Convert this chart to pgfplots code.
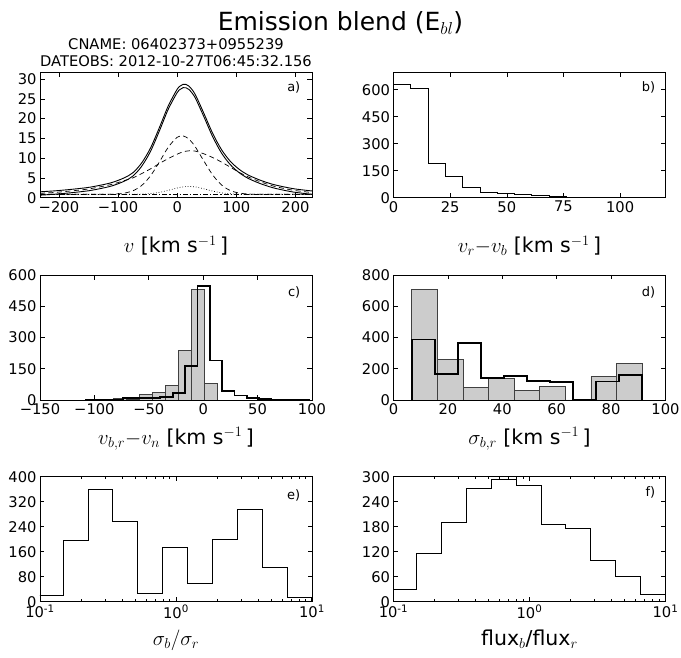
\documentclass[border=0pt]{standalone}
\usepackage{fontspec}
\setmainfont{DejaVu Sans}
\usepackage{pgfplots}
\pgfplotsset{compat=1.18}
\pgfplotsset{
 panel/.style={
  scale only axis, width=272pt, height=125pt, anchor=south west,
  tick align=inside, major tick length=4.5pt, minor tick length=2.5pt,
  tick label style={font=\fontsize{14.7}{17}\selectfont},
  xticklabel style={font=\fontsize{14.7}{17}\selectfont},
  yticklabel style={font=\fontsize{14.7}{17}\selectfont},
  /pgf/number format/assume math mode=true,
  axis line style={line width=0.7pt},
  every tick/.append style={black,line width=0.6pt},
  xlabel style={font=\fontsize{20.5}{24}\selectfont, at={(axis description cs:0.5,0)}, anchor=base},
  scaled ticks=false, clip=true,
 },
 logpanel/.style={xmin=0.1, xmax=10,
  xtick={0.1,1,10}, xticklabels={10\textsuperscript{-1},10\textsuperscript{0},10\textsuperscript{1}},
  minor xtick={0.2,0.3,0.4,0.5,0.6,0.7,0.8,0.9,2,3,4,5,6,7,8,9}},
 histstep/.style={const plot, black, line width=0.8pt},
 thickstep/.style={const plot, black, line width=1.7pt},
 graybar/.style={ybar interval, fill=gray!40, draw=black!75, line width=0.7pt},
}
\tikzset{plabel/.style={anchor=base east, font=\fontsize{13}{15}\selectfont}}
\begin{document}
\begin{tikzpicture}
\useasboundingbox (0,0) rectangle (681pt,657pt);
\node[anchor=base, font=\fontsize{25}{30}\selectfont] at (340.5pt,626pt) {Emission blend (E$_{bl}$)};
\node[anchor=base, font=\fontsize{14.7}{17}\selectfont] at (176pt,607pt) {CNAME: 06402373+0955239};
\node[anchor=base, font=\fontsize{14.7}{17}\selectfont] at (176pt,590pt) {DATEOBS: 2012-10-27T06:45:32.156};

% ---------------- a
\begin{axis}[panel, at={(40pt,459.3pt)},
  xmin=-232, xmax=228, ymin=0, ymax=31.6,
  xtick={-200,-100,0,100,200}, xticklabels={−200,−100,0,100,200},
  ytick={0,5,...,30},
  xlabel={$v$ [km s$^{-1}\,$]}, xlabel style={yshift=-55pt}]
\addplot[black, line width=0.7pt, dash pattern=on 5pt off 2pt on 1.2pt off 2pt] coordinates {(-232,0.85)(228,0.85)};
\addplot[black, line width=0.7pt, dotted, smooth] coordinates {(-232,0.85)(-90,0.85)(-75,0.86)(-60,0.91)(-45,1.04)(-30,1.35)(-15,1.86)(0,2.45)(10,2.74)(20,2.85)(30,2.74)(45,2.26)(60,1.67)(75,1.22)(90,0.98)(105,0.89)(120,0.85)(228,0.85)};
\addplot[black, line width=0.7pt, dash pattern=on 5pt off 3.5pt, smooth] coordinates {(-232,0.85)(-150,0.85)(-130,0.86)(-110,0.90)(-100,0.98)(-90,1.14)(-75,1.74)(-60,3.09)(-45,5.55)(-30,9.06)(-15,12.78)(0,15.27)(10,15.63)(20,14.80)(30,13.00)(45,9.31)(60,5.76)(75,3.22)(90,1.80)(105,1.17)(120,0.94)(140,0.86)(228,0.85)};
\addplot[black, line width=0.7pt, dash pattern=on 5pt off 3.5pt, smooth] coordinates {(-232,1.1)(-210,1.3)(-190,1.55)(-170,1.85)(-150,2.2)(-130,2.75)(-110,3.4)(-90,4.3)(-75,5.0)(-60,6.1)(-45,7.3)(-30,8.65)(-15,9.9)(0,11.0)(10,11.6)(20,11.85)(30,11.8)(45,11.1)(60,10.15)(75,9.0)(90,7.7)(105,6.4)(120,5.25)(140,4.05)(160,3.05)(180,2.35)(200,1.8)(228,1.3)};
\addplot[black, line width=0.9pt, smooth] coordinates {(-232,1.49)(-210,1.70)(-190,1.95)(-170,2.25)(-150,2.60)(-130,3.15)(-110,3.85)(-90,4.99)(-75,6.30)(-60,8.80)(-45,12.59)(-30,17.76)(-15,23.24)(0,27.42)(5,28.22)(10,28.67)(15,28.63)(20,28.20)(30,26.24)(45,21.37)(60,16.28)(75,12.14)(90,9.18)(105,7.16)(120,5.74)(140,4.45)(160,3.45)(180,2.75)(200,2.20)(228,1.70)};
\addplot[black, line width=0.9pt, smooth] coordinates {(-232,0.64)(-210,0.85)(-190,1.10)(-170,1.40)(-150,1.75)(-130,2.30)(-110,3.00)(-90,4.14)(-75,5.45)(-60,7.95)(-45,11.74)(-30,16.91)(-15,22.39)(0,26.57)(5,27.37)(10,27.82)(15,27.78)(20,27.35)(30,25.39)(45,20.52)(60,15.43)(75,11.29)(90,8.33)(105,6.31)(120,4.89)(140,3.60)(160,2.60)(180,1.90)(200,1.35)(228,0.85)};
\node[plabel] at (rel axis cs:0.97,0.85) {a)};
\end{axis}

% ---------------- b
\begin{axis}[panel, at={(393.5pt,459.3pt)},
  xmin=0, xmax=120, ymin=0, ymax=695,
  xtick={0,25,50,75,100}, ytick={0,150,...,600},
  xlabel={$v_r{-}v_b$ [km s$^{-1}\,$]}, xlabel style={yshift=-55pt}]
\addplot[histstep] coordinates {(0,0)(0,632)(7.63,610)(15.26,190)(22.89,118)(30.52,57)(38.15,30)(45.78,25)(53.41,18)(61.04,10)(68.67,8)(76.30,4)(83.93,4)(91.56,0)(99.19,2)(106.82,2)(114.45,2)(114.45,0)};
\node[plabel] at (rel axis cs:0.975,0.85) {b)};
\end{axis}

% ---------------- c
\begin{axis}[panel, at={(40pt,257pt)},
  xmin=-150, xmax=100, ymin=0, ymax=600,
  xtick={-150,-100,-50,0,50,100}, xticklabels={−150,−100,−50,0,50,100},
  ytick={0,150,...,600},
  xlabel={$v_{b,r}{-}v_n$ [km s$^{-1}\,$]}, xlabel style={yshift=-44pt}]
\addplot[graybar] coordinates {(-107,1)(-95,2)(-83,7)(-71,5)(-59,27)(-47,38)(-35,70)(-23,238)(-11,532)(1,80)(13,0)};
\addplot[thickstep] coordinates {(-107.6,0)(-107.6,1)(-96.2,2)(-84.9,3)(-73.5,8)(-62.1,8)(-50.7,10)(-39.4,16)(-28.0,32)(-16.6,163)(-5.3,548)(6.1,190)(17.5,44)(28.8,22)(40.2,10)(51.6,4)(62.9,2)(74.3,1)(85.7,1)(97.0,1)(97.0,0)};
\node[plabel] at (rel axis cs:0.97,0.83) {c)};
\end{axis}

% ---------------- d
\begin{axis}[panel, at={(393.5pt,257pt)},
  xmin=0, xmax=100, ymin=0, ymax=800,
  xtick={0,20,...,100}, ytick={0,200,...,800},
  xlabel={$\sigma_{b,r}$ [km s$^{-1}\,$]}, xlabel style={yshift=-44pt}]
\addplot[graybar] coordinates {(6.7,710)(16.11,260)(25.52,81)(34.93,139)(44.34,60)(53.75,87)(63.16,0)(72.57,149)(81.98,235)(91.39,0)};
\addplot[thickstep] coordinates {(6.7,0)(6.7,388)(15.17,166)(23.64,363)(32.11,139)(40.58,154)(49.05,122)(57.52,115)(65.99,0)(74.46,119)(82.93,158)(91.4,158)(91.4,0)};
\node[plabel] at (rel axis cs:0.975,0.83) {d)};
\end{axis}

% ---------------- e
\begin{axis}[panel, xmode=log, logpanel, at={(40pt,55.3pt)},
  ymin=0, ymax=400, ytick={0,80,...,400},
  xlabel={$\sigma_b/\sigma_r$}, xlabel style={yshift=-44pt}]
\addplot[histstep] coordinates {(0.097,0)(0.097,21)(0.1479,195)(0.2254,358)(0.3434,258)(0.5232,27)(0.7972,175)(1.215,60)(1.851,200)(2.820,295)(4.298,110)(6.549,13)(9.977,13)(9.977,0)};
\node[plabel] at (rel axis cs:0.97,0.82) {e)};
\end{axis}

% ---------------- f
\begin{axis}[panel, xmode=log, logpanel, at={(393.5pt,55.3pt)},
  ymin=0, ymax=300, ytick={0,60,...,300},
  xlabel={flux$_b$/flux$_r$}, xlabel style={yshift=-44pt}]
\addplot[histstep] coordinates {(0.097,0)(0.097,29)(0.1479,116)(0.2254,191)(0.3434,272)(0.5232,294)(0.7972,279)(1.215,185)(1.851,176)(2.820,99)(4.298,61)(6.549,17)(9.977,17)(9.977,0)};
\node[plabel] at (rel axis cs:0.975,0.84) {f)};
\end{axis}
\end{tikzpicture}
\end{document}
